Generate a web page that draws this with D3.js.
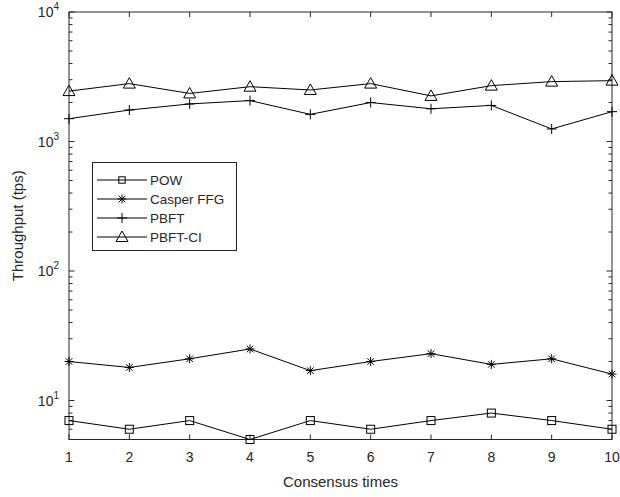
<!DOCTYPE html>
<html>
<head>
<meta charset="utf-8">
<script src="https://cdn.jsdelivr.net/npm/d3@7"></script>
<style>
  body { margin: 0; background: #fff; }
  text { font-family: "Liberation Sans", Arial, sans-serif; fill: #262626; }
</style>
</head>
<body>
<svg width="620" height="497"></svg>
<script>
// data
const times = [1, 2, 3, 4, 5, 6, 7, 8, 9, 10];
const pow = [7, 6, 7, 5, 7, 6, 7, 8, 7, 6];
const casper = [20, 18, 21, 25, 17, 20, 23, 19, 21, 16];
const pbft = [1500, 1750, 1950, 2070, 1620, 2000, 1790, 1900, 1250, 1700];
const pbftci = [2450, 2800, 2350, 2650, 2500, 2800, 2250, 2700, 2900, 2950];
const seriesNames = ["POW", "Casper FFG", "PBFT", "PBFT-CI"];
const yDecades = [1, 2, 3, 4];

const svg = d3.select("svg");
const pLeft = 69, pRight = 612, pTop = 12, pBottom = 439.5;

const x = d3.scaleLinear().domain([1, 10]).range([pLeft, pRight]);
const y = d3.scaleLog().domain([5, 10000]).range([pBottom, pTop]);

const series = [
  {name: seriesNames[0], values: pow, marker: "square"},
  {name: seriesNames[1], values: casper, marker: "star"},
  {name: seriesNames[2], values: pbft, marker: "plus"},
  {name: seriesNames[3], values: pbftci, marker: "triangle"}
];

// marker drawing
function drawMarker(g, type, cx, cy, k) {
  k = k || 1;
  const s = g.append("g").attr("transform", "translate(" + cx + "," + cy + ") scale(" + k + ")")
    .attr("fill", "none").attr("stroke", "#000").attr("stroke-width", 1 / k);
  if (type === "square") {
    s.append("rect").attr("x", -4).attr("y", -4).attr("width", 8).attr("height", 8);
  } else if (type === "plus") {
    s.append("path").attr("d", "M-5,0H5M0,-5V5");
  } else if (type === "star") {
    s.append("path").attr("d", "M-4.5,0H4.5M0,-4.5V4.5M-3.3,-3.3L3.3,3.3M-3.3,3.3L3.3,-3.3");
  } else if (type === "triangle") {
    s.append("path").attr("d", "M0,-6L6,4.5H-6Z");
  }
}

// axes box
svg.append("rect")
  .attr("x", pLeft).attr("y", pTop)
  .attr("width", pRight - pLeft).attr("height", pBottom - pTop)
  .attr("fill", "none").attr("stroke", "#262626").attr("stroke-width", 1);

// x ticks (top and bottom, inward)
const axes = svg.append("g").attr("stroke", "#262626").attr("stroke-width", 1);
times.forEach(t => {
  axes.append("line").attr("x1", x(t)).attr("x2", x(t)).attr("y1", pBottom).attr("y2", pBottom - 5);
  axes.append("line").attr("x1", x(t)).attr("x2", x(t)).attr("y1", pTop).attr("y2", pTop + 5);
  svg.append("text").attr("x", x(t)).attr("y", pBottom + 22)
    .attr("text-anchor", "middle").attr("font-size", 14).text(t);
});

// y ticks: decades and minor
const minorTicks = y.ticks().filter(v => v >= 5 && v <= 10000);
minorTicks.forEach(v => {
  const major = Math.abs(Math.log10(v) - Math.round(Math.log10(v))) < 1e-9;
  const len = major ? 5.5 : 3.5;
  axes.append("line").attr("x1", pLeft).attr("x2", pLeft + len).attr("y1", y(v)).attr("y2", y(v));
  axes.append("line").attr("x1", pRight).attr("x2", pRight - len).attr("y1", y(v)).attr("y2", y(v));
});
yDecades.forEach(e => {
  const t = svg.append("text").attr("x", pLeft - 10).attr("y", y(Math.pow(10, e)) + 5)
    .attr("text-anchor", "end").attr("font-size", 14);
  t.append("tspan").text("10");
  t.append("tspan").attr("font-size", 10).attr("dy", -7).text(e);
});

// lines and markers
const line = d3.line().x((d, i) => x(times[i])).y(d => y(d));
series.forEach(s => {
  svg.append("path").datum(s.values)
    .attr("d", line).attr("fill", "none").attr("stroke", "#000").attr("stroke-width", 1);
  const g = svg.append("g");
  s.values.forEach((v, i) => drawMarker(g, s.marker, x(times[i]), y(v)));
});

// axis labels
svg.append("text").attr("x", (pLeft + pRight) / 2).attr("y", 487)
  .attr("text-anchor", "middle").attr("font-size", 15).text("Consensus times");
svg.append("text").attr("transform", "translate(23," + ((pTop + pBottom) / 2) + ") rotate(-90)")
  .attr("text-anchor", "middle").attr("font-size", 15).text("Throughput (tps)");

// legend
const lg = svg.append("g");
lg.append("rect").attr("x", 92.5).attr("y", 162.5).attr("width", 144).attr("height", 88)
  .attr("fill", "#fff").attr("stroke", "#262626").attr("stroke-width", 1);
series.forEach((s, i) => {
  const yy = 180 + i * 19;
  lg.append("line").attr("x1", 97).attr("x2", 147).attr("y1", yy).attr("y2", yy)
    .attr("stroke", "#000").attr("stroke-width", 1);
  drawMarker(lg, s.marker, 122, yy, s.marker === "square" ? 0.8 : 1);
  lg.append("text").attr("x", 150).attr("y", yy + 5).attr("font-size", 13.5).text(s.name);
});
</script>
</body>
</html>
